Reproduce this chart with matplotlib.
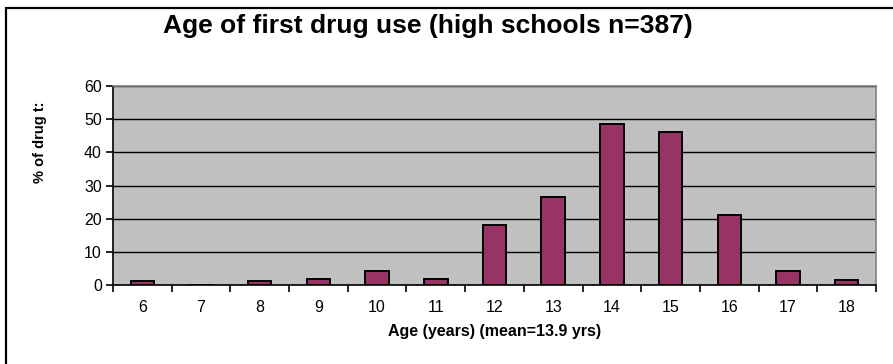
import matplotlib.pyplot as plt
import numpy as np
from matplotlib.patches import Rectangle

plt.rcParams["font.family"] = ["Liberation Sans", "DejaVu Sans"]

# percentage of drug users by age of first use
ages = ["6", "7", "8", "9", "10", "11", "12", "13", "14", "15", "16", "17", "18"]
percent = [1.3, 0.0, 1.3, 1.8, 4.1, 1.8, 18.1, 26.6, 48.4, 46.0, 21.2, 4.1, 1.6]

fig = plt.figure(figsize=(8.93, 3.64), dpi=100)
ax = fig.add_axes([0.1265, 0.217, 0.8545, 0.5467])

# outer chart border (runs off right and bottom edges)
fig.patches.append(
    Rectangle((6 / 893, -0.1), 1.2, 1 - 8 / 364 + 0.1, transform=fig.transFigure,
              fill=False, edgecolor="black", linewidth=1.6)
)

x = np.arange(len(ages))
ax.set_facecolor("#C0C0C0")
ax.set_axisbelow(True)
ax.yaxis.grid(True, color="black", linewidth=1.0)
ax.bar(x, percent, width=0.4, color="#993366", edgecolor="black", linewidth=1.4, zorder=3)

ax.set_xlim(-0.5, len(ages) - 0.5)
ax.set_ylim(0, 60)
ax.set_yticks(range(0, 61, 10))
ax.set_xticks(x)
ax.set_xticklabels(ages)
ax.set_xticks(np.arange(-0.5, len(ages), 1.0), minor=True)
ax.tick_params(axis="x", which="major", length=0, labelsize=11.5, pad=11)
ax.tick_params(axis="x", which="minor", length=5, width=1.2, direction="out")
ax.tick_params(axis="y", length=5, width=1.2, labelsize=11.5, pad=3)

for side in ["top", "right"]:
    ax.spines[side].set_color("#808080")
    ax.spines[side].set_linewidth(1.2)
for side in ["left", "bottom"]:
    ax.spines[side].set_color("black")
    ax.spines[side].set_linewidth(1.2)

fig.text(428 / 893, 1 - 26 / 364, "Age of first drug use (high schools n=387)",
         ha="center", va="center", fontsize=19, fontweight="bold")
fig.text(40 / 893, 1 - 142 / 364, "% of drug t:", rotation=90,
         ha="center", va="center", fontsize=10.5, fontweight="bold")
ax.set_xlabel("Age (years) (mean=13.9 yrs)", fontsize=11.5, fontweight="bold", labelpad=6)

fig.savefig("out.png", dpi=100)
